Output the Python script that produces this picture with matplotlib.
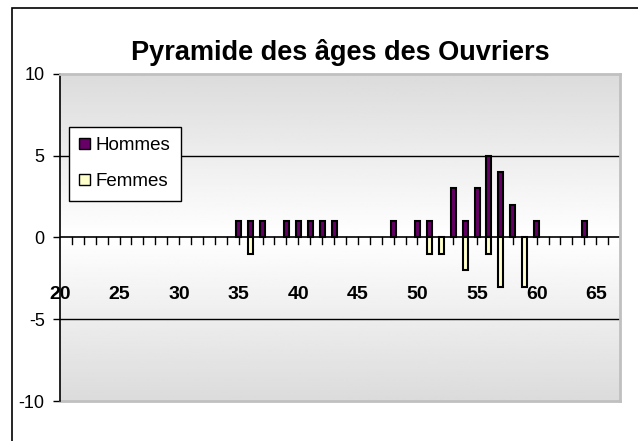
import numpy as np
import matplotlib.pyplot as plt
from matplotlib.patches import Patch, Rectangle

# données : âge -> effectif
ages_h = [35, 36, 37, 39, 40, 41, 42, 43, 48, 50, 51, 53, 54, 55, 56, 57, 58, 60, 64]
hommes = [1, 1, 1, 1, 1, 1, 1, 1, 1, 1, 1, 3, 1, 3, 5, 4, 2, 1, 1]
ages_f = [36, 51, 52, 54, 56, 57, 59]
femmes = [-1, -1, -1, -2, -1, -3, -3]
x_labels = [20, 25, 30, 35, 40, 45, 50, 55, 60, 65]
y_ticks = [-10, -5, 0, 5, 10]

plt.rcParams['font.family'] = ['Liberation Sans', 'DejaVu Sans']

fig = plt.figure(figsize=(6.38, 4.41), dpi=100)
ax = fig.add_axes([60 / 638, 40 / 441, 560 / 638, 327 / 441])

# fond dégradé gris / blanc / gris
g = np.linspace(1, -1, 200)
shade = 0.86 + 0.14 * (1 - np.abs(g))
ax.imshow(shade[:, None], cmap='gray', vmin=0, vmax=1, aspect='auto',
          extent=[20, 67, -10, 10], zorder=0)

# lignes de quadrillage
for yv in [5, -5]:
    ax.axhline(yv, color='black', lw=1, zorder=1)

ax.bar(ages_h, hommes, width=0.42, color='#660066', edgecolor='black', lw=1.5, zorder=3)
ax.bar(ages_f, femmes, width=0.42, color='#FFFFCC', edgecolor='black', lw=1.5, zorder=3)

ax.set_xlim(20, 67)
ax.set_ylim(-10, 10)

# axe des x au niveau de zéro
ax.spines['bottom'].set_visible(False)
ax.axhline(0, color='black', lw=1.2, zorder=2)
for s in ['top', 'right']:
    ax.spines[s].set_color('#c0c0c0')
    ax.spines[s].set_linewidth(2)
ax.plot([20, 67], [-10, -10], color='#c0c0c0', lw=2, clip_on=False, zorder=2)
ax.spines['left'].set_color('black')
ax.spines['left'].set_linewidth(1.2)

ax.set_xticks([])
for a in range(21, 67):
    ax.plot([a, a], [0, -0.37], color='black', lw=1, zorder=2)
for a in x_labels:
    ax.text(a, -2.95, str(a), ha='center', va='top', fontsize=14, fontweight='bold')

ax.set_yticks(y_ticks)
ax.set_yticklabels([str(v) for v in y_ticks], fontsize=13)
ax.tick_params(axis='y', direction='out', length=5, width=1, pad=6)

ax.set_title('Pyramide des âges des Ouvriers', fontsize=19.5, fontweight='bold', pad=10)

handles = [Patch(facecolor='#660066', edgecolor='black', label='Hommes'),
           Patch(facecolor='#FFFFCC', edgecolor='black', label='Femmes')]
leg = ax.legend(handles=handles, loc='upper left', bbox_to_anchor=(0.016, 0.838),
                borderaxespad=0, fontsize=13.5, fancybox=False, framealpha=1,
                edgecolor='black', handlelength=0.55, handleheight=0.55,
                handletextpad=0.3, labelspacing=1.0, borderpad=0.56)
leg.get_frame().set_linewidth(1)

# cadre du graphique
fig.patches.append(Rectangle((12 / 638, -0.1), 1, (433 / 441) + 0.1,
                             transform=fig.transFigure, fill=False,
                             edgecolor='black', lw=1.2))

fig.savefig('out.png', dpi=100)
